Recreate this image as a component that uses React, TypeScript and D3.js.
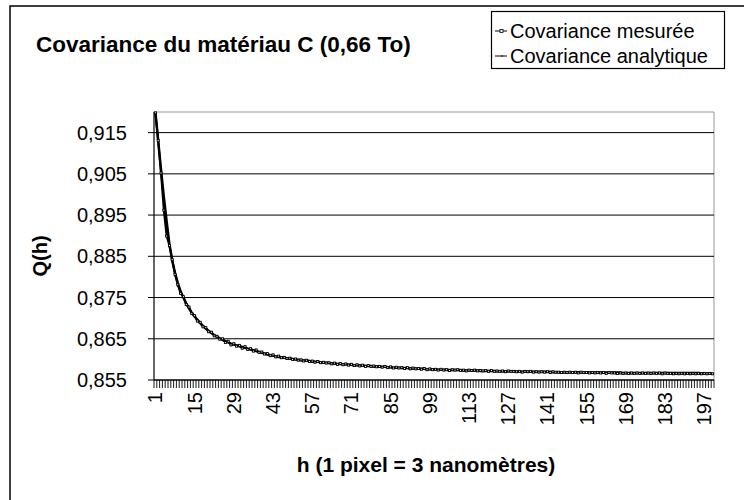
import React from "react";
import * as d3 from "d3";

// valeurs (h = 1..200)
const measured = [
  0.9198, 0.9131, 0.9052, 0.8962, 0.8899, 0.8876, 0.8842, 0.8806, 0.8781, 0.876,
  0.8752, 0.8733, 0.8727, 0.8711, 0.8706, 0.8693, 0.869, 0.8679, 0.8677, 0.8667,
  0.8666, 0.8657, 0.8656, 0.8649, 0.865, 0.8641, 0.8644, 0.8635, 0.8638, 0.8632,
  0.8634, 0.8627, 0.8631, 0.8624, 0.8626, 0.862, 0.8623, 0.8617, 0.8618, 0.8613,
  0.8614, 0.8609, 0.8611, 0.8606, 0.8608, 0.8604, 0.8605, 0.8602, 0.8603, 0.86,
  0.8601, 0.8598, 0.8599, 0.8596, 0.8598, 0.8595, 0.8596, 0.8593, 0.8595, 0.8592,
  0.8593, 0.8591, 0.8592, 0.8589, 0.8591, 0.8588, 0.859, 0.8587, 0.8589, 0.8586,
  0.8588, 0.8585, 0.8587, 0.8584, 0.8586, 0.8583, 0.8585, 0.8583, 0.8584, 0.8582,
  0.8583, 0.8581, 0.8583, 0.858, 0.8582, 0.8579, 0.8581, 0.8579, 0.858, 0.8578,
  0.858, 0.8577, 0.8579, 0.8577, 0.8578, 0.8576, 0.8578, 0.8575, 0.8577, 0.8575,
  0.8576, 0.8574, 0.8576, 0.8574, 0.8575, 0.8573, 0.8575, 0.8574, 0.8575, 0.8573,
  0.8574, 0.8572, 0.8574, 0.8573, 0.8574, 0.8572, 0.8573, 0.8572, 0.8573, 0.8571,
  0.8573, 0.8571, 0.8572, 0.8571, 0.8572, 0.857, 0.8572, 0.8571, 0.8571, 0.857,
  0.8571, 0.8569, 0.8571, 0.857, 0.8571, 0.8569, 0.857, 0.8569, 0.857, 0.8569,
  0.857, 0.8568, 0.857, 0.8569, 0.8569, 0.8568, 0.8569, 0.8568, 0.8569, 0.8568,
  0.8569, 0.8567, 0.8569, 0.8568, 0.8568, 0.8567, 0.8568, 0.8567, 0.8568, 0.8567,
  0.8568, 0.8566, 0.8568, 0.8567, 0.8567, 0.8566, 0.8567, 0.8566, 0.8567, 0.8566,
  0.8567, 0.8566, 0.8567, 0.8566, 0.8567, 0.8566, 0.8567, 0.8566, 0.8567, 0.8566,
  0.8567, 0.8565, 0.8567, 0.8566, 0.8566, 0.8565, 0.8566, 0.8565, 0.8566, 0.8565,
  0.8566, 0.8565, 0.8566, 0.8565, 0.8566, 0.8565, 0.8566, 0.8565, 0.8566, 0.8565,
];

const analytic = [
  0.92, 0.913, 0.906, 0.8995, 0.8935, 0.888, 0.884, 0.881, 0.8785, 0.8765,
  0.875, 0.8736, 0.8724, 0.8713, 0.8704, 0.8696, 0.8688, 0.8681, 0.8675, 0.8669,
  0.8664, 0.8659, 0.8655, 0.8651, 0.8647, 0.8644, 0.8641, 0.8638, 0.8636, 0.8634,
  0.8632, 0.863, 0.8628, 0.8626, 0.8624, 0.8622, 0.862, 0.8618, 0.8616, 0.8614,
  0.8612, 0.861, 0.8609, 0.8607, 0.8606, 0.8605, 0.8604, 0.8603, 0.8602, 0.8601,
  0.86, 0.8599, 0.8598, 0.8597, 0.8597, 0.8596, 0.8595, 0.8594, 0.8594, 0.8593,
  0.8592, 0.8592, 0.8591, 0.859, 0.859, 0.8589, 0.8589, 0.8588, 0.8588, 0.8587,
  0.8587, 0.8586, 0.8586, 0.8585, 0.8585, 0.8584, 0.8584, 0.8584, 0.8583, 0.8583,
  0.8582, 0.8582, 0.8582, 0.8581, 0.8581, 0.858, 0.858, 0.858, 0.8579, 0.8579,
  0.8579, 0.8578, 0.8578, 0.8578, 0.8577, 0.8577, 0.8577, 0.8576, 0.8576, 0.8576,
  0.8576, 0.8575, 0.8575, 0.8575, 0.8575, 0.8574, 0.8574, 0.8574, 0.8574, 0.8574,
  0.8573, 0.8573, 0.8573, 0.8573, 0.8573, 0.8573, 0.8572, 0.8572, 0.8572, 0.8572,
  0.8572, 0.8572, 0.8571, 0.8571, 0.8571, 0.8571, 0.8571, 0.8571, 0.8571, 0.857,
  0.857, 0.857, 0.857, 0.857, 0.857, 0.857, 0.857, 0.857, 0.857, 0.857,
  0.857, 0.857, 0.8569, 0.8569, 0.8569, 0.8569, 0.8569, 0.8569, 0.8569, 0.8569,
  0.8569, 0.8569, 0.8569, 0.8568, 0.8568, 0.8568, 0.8568, 0.8568, 0.8568, 0.8568,
  0.8568, 0.8568, 0.8568, 0.8568, 0.8568, 0.8568, 0.8568, 0.8567, 0.8567, 0.8567,
  0.8567, 0.8567, 0.8567, 0.8567, 0.8567, 0.8567, 0.8567, 0.8567, 0.8567, 0.8567,
  0.8567, 0.8567, 0.8567, 0.8567, 0.8567, 0.8567, 0.8567, 0.8567, 0.8567, 0.8567,
  0.8567, 0.8567, 0.8567, 0.8567, 0.8567, 0.8566, 0.8566, 0.8566, 0.8566, 0.8566,
];

const categories = measured.map((_, i) => i + 1);
const xTickLabels = [1, 15, 29, 43, 57, 71, 85, 99, 113, 127, 141, 155, 169, 183, 197];
const yTickValues = [0.855, 0.865, 0.875, 0.885, 0.895, 0.905, 0.915];
const legendLabels = ["Covariance mesurée", "Covariance analytique"];

const W = 744, H = 500;
const plot = { left: 154, right: 714, top: 112, bottom: 380 };
const font = "'Liberation Sans', Arial, sans-serif";

export default function App() {
  const x = d3.scaleBand<number>().domain(categories).range([plot.left, plot.right]).padding(0);
  const y = d3.scaleLinear().domain([0.855, 0.92]).range([plot.bottom, plot.top]);
  const cx = (h: number) => (x(h) as number) + x.bandwidth() / 2;
  const fmt = (v: number) => d3.format(".3f")(v).replace(".", ",");

  const line = d3.line<number>().x((_, i) => cx(categories[i])).y((d) => y(d));

  return (
    <svg width={W} height={H} style={{ position: "absolute", left: 0, top: 0, background: "#fff" }}
      fontFamily={font}>
      {/* cadre extérieur */}
      <rect x={10} y={6} width={760} height={520} fill="#fff" stroke="#000" strokeWidth={1.5} />

      <text x={36} y={52} fontSize={22.5} fontWeight="bold">Covariance du matériau C (0,66 To)</text>

      {/* légende */}
      <g>
        <rect x={491.5} y={11.5} width={233} height={57} fill="#fff" stroke="#000" strokeWidth={1.2} />
        {legendLabels.map((lab, i) => {
          const ly = 31 + i * 25;
          return (
            <g key={lab}>
              <line x1={495} x2={507} y1={ly} y2={ly} stroke="#000" strokeWidth={1} />
              {i === 0 ? (
                <rect x={500} y={ly - 1.5} width={3} height={3} fill="#fff" stroke="#000" strokeWidth={0.8} />
              ) : (
                <line x1={502} x2={502} y1={ly - 1} y2={ly + 1} stroke="#000" strokeWidth={0.8} />
              )}
              <text x={510} y={ly} dy="0.35em" fontSize={20}>{lab}</text>
            </g>
          );
        })}
      </g>

      {/* zone de tracé */}
      <line x1={plot.left} x2={plot.right} y1={plot.top} y2={plot.top} stroke="#999" />
      <line x1={plot.right} x2={plot.right} y1={plot.top} y2={plot.bottom} stroke="#999" />
      {yTickValues.map((v) => (
        <g key={v}>
          <line x1={plot.left - 6} x2={plot.right} y1={y(v)} y2={y(v)} stroke="#000" strokeWidth={1} />
          <text x={127} y={y(v)} dy="0.35em" textAnchor="end" fontSize={20}>{fmt(v)}</text>
        </g>
      ))}
      <line x1={plot.left} x2={plot.left} y1={plot.top} y2={plot.bottom} stroke="#000" strokeWidth={1.2} />

      {/* axe des h */}
      <line x1={plot.left} x2={plot.right} y1={plot.bottom} y2={plot.bottom} stroke="#000" strokeWidth={1.2} />
      {[...categories, categories.length + 1].map((h) => {
        const xx = h <= categories.length ? (x(h) as number) : plot.right;
        return <line key={h} x1={xx} x2={xx} y1={plot.bottom} y2={plot.bottom + 8} stroke="#000" strokeWidth={0.9} />;
      })}
      {xTickLabels.map((h) => (
        <text key={h} transform={`translate(${cx(h)},392) rotate(-90)`} dy="0.35em" textAnchor="end" fontSize={20}>
          {h}
        </text>
      ))}

      {/* séries */}
      <path d={line(analytic) || ""} fill="none" stroke="#000" strokeWidth={2.5} />
      <path d={line(measured) || ""} fill="none" stroke="#000" strokeWidth={2} />
      {measured.map((v, i) => (
        <rect key={i} x={cx(categories[i]) - 1} y={y(v) - 1} width={2} height={2}
          fill="#fff" stroke="#000" strokeWidth={0.9} />
      ))}

      <text transform={`translate(47,${(plot.top + plot.bottom) / 2 + 10}) rotate(-90)`} textAnchor="middle"
        fontSize={20} fontWeight="bold">Q(h)</text>
      <text x={426} y={472} textAnchor="middle" fontSize={21} fontWeight="bold">h (1 pixel = 3 nanomètres)</text>
    </svg>
  );
}
